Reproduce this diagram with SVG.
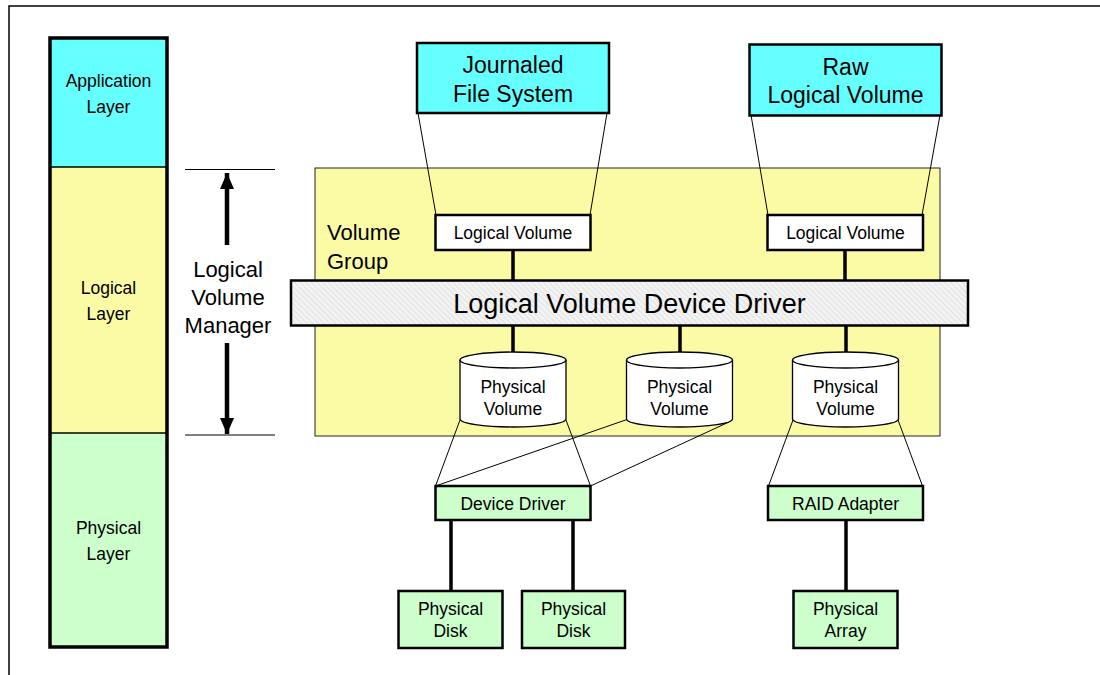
<svg xmlns="http://www.w3.org/2000/svg" width="1100" height="675" viewBox="0 0 1100 675">
  <defs>
    <style>
      text { font-family: "Liberation Sans", Arial, sans-serif; fill: #000; text-anchor: middle; }
      .s17 { font-size: 17.5px; }
      .s22 { font-size: 22px; }
      .s23 { font-size: 23px; }
      .s27 { font-size: 27px; }
      .cyan { fill: #66FFFF; stroke: #000; stroke-width: 2.5; }
      .green { fill: #CCFFCC; stroke: #000; stroke-width: 2.5; }
      .white { fill: #FFFFFF; stroke: #000; stroke-width: 2.5; }
      .yellow { fill: #FBFBA6; }
      .thin { stroke: #000; stroke-width: 1; fill: none; }
      .thick { stroke: #000; stroke-width: 3.5; fill: none; }
      .cyl { fill: #FFFFFF; stroke: #000; stroke-width: 1.3; }
    </style>
    <pattern id="hatch" width="4" height="4" patternUnits="userSpaceOnUse" patternTransform="rotate(-45)">
      <rect width="4" height="4" fill="#F3F3F3"/>
      <line x1="0" y1="0" x2="0" y2="4" stroke="#D6D6D6" stroke-width="1.2"/>
    </pattern>
    <marker id="head" viewBox="0 0 16 14" refX="16" refY="7" markerWidth="16" markerHeight="14" markerUnits="userSpaceOnUse" orient="auto">
      <path d="M0,0 L16,7 L0,14 z" fill="#000"/>
    </marker>
  </defs>

  <rect width="1100" height="675" fill="#FFFFFF"/>

  <!-- page frame -->
  <path d="M9,675 V6 H1100" fill="none" stroke="#000" stroke-width="1.5"/>

  <!-- layer column -->
  <g id="layers">
    <rect x="50" y="38" width="117" height="129" fill="#66FFFF"/>
    <rect x="50" y="167" width="117" height="266" class="yellow"/>
    <rect x="50" y="433" width="117" height="214" fill="#CCFFCC"/>
    <line x1="50" y1="167" x2="167" y2="167" stroke="#000" stroke-width="1.5"/>
    <line x1="50" y1="433" x2="167" y2="433" stroke="#000" stroke-width="1.5"/>
    <rect x="50" y="38" width="117" height="609" fill="none" stroke="#000" stroke-width="3.5"/>
    <text class="s17" x="108.5" y="87">Application</text>
    <text class="s17" x="108.5" y="113">Layer</text>
    <text class="s17" x="108.5" y="294">Logical</text>
    <text class="s17" x="108.5" y="320">Layer</text>
    <text class="s17" x="108.5" y="534">Physical</text>
    <text class="s17" x="108.5" y="560">Layer</text>
  </g>

  <!-- LVM span indicator -->
  <g id="lvm">
    <line x1="185" y1="169.5" x2="275" y2="169.5" stroke="#000" stroke-width="1.2"/>
    <line x1="185" y1="435" x2="275" y2="435" stroke="#000" stroke-width="1.2"/>
    <line x1="227" y1="245" x2="227" y2="173" stroke="#000" stroke-width="4.5" marker-end="url(#head)"/>
    <line x1="227" y1="343" x2="227" y2="434" stroke="#000" stroke-width="4.5" marker-end="url(#head)"/>
    <text class="s22" x="228" y="277">Logical</text>
    <text class="s22" x="228" y="305">Volume</text>
    <text class="s22" x="228" y="333">Manager</text>
  </g>

  <!-- volume group area -->
  <g id="volume-group">
    <rect x="315" y="168" width="625" height="268" class="yellow" stroke="#222" stroke-width="1"/>
    <text class="s22" x="327" y="240" style="text-anchor:start">Volume</text>
    <text class="s22" x="327" y="269" style="text-anchor:start">Group</text>
  </g>

  <!-- connectors -->
  <g id="connectors">
    <!-- file system / raw LV to logical volumes -->
    <line class="thin" x1="418" y1="113" x2="436" y2="215"/>
    <line class="thin" x1="607" y1="113" x2="590" y2="215"/>
    <line class="thin" x1="751" y1="115" x2="768" y2="215"/>
    <line class="thin" x1="940" y1="115" x2="922" y2="215"/>
    <!-- logical volumes to device driver bar -->
    <line class="thick" x1="513" y1="250" x2="513" y2="281"/>
    <line class="thick" x1="845" y1="250" x2="845" y2="281"/>
    <!-- device driver bar to physical volumes -->
    <line class="thick" x1="513" y1="324" x2="513" y2="353"/>
    <line class="thick" x1="680" y1="324" x2="680" y2="353"/>
    <line class="thick" x1="846" y1="324" x2="846" y2="353"/>
    <!-- physical volumes to adapters -->
    <line class="thin" x1="460" y1="420" x2="435.5" y2="486"/>
    <line class="thin" x1="566" y1="420" x2="590.5" y2="486"/>
    <line class="thin" x1="627" y1="419.5" x2="435.5" y2="486"/>
    <line class="thin" x1="729" y1="422" x2="590.5" y2="486"/>
    <line class="thin" x1="793" y1="420" x2="768.5" y2="486"/>
    <line class="thin" x1="898" y1="420" x2="922.5" y2="486"/>
    <!-- adapters to disks -->
    <line class="thick" x1="451" y1="520" x2="451" y2="591"/>
    <line class="thick" x1="573" y1="520" x2="573" y2="591"/>
    <line class="thick" x1="846" y1="520" x2="846" y2="591"/>
  </g>

  <g id="jfs">
    <rect x="417" y="43" width="192" height="70" class="cyan"/>
    <text class="s23" x="513" y="73">Journaled</text>
    <text class="s23" x="513" y="102">File System</text>
  </g>

  <g id="raw-lv">
    <rect x="749.5" y="44.5" width="192" height="71" class="cyan"/>
    <text class="s23" x="845.5" y="75">Raw</text>
    <text class="s23" x="845.5" y="103">Logical Volume</text>
  </g>

  <g id="lv-1">
    <rect x="435.5" y="215" width="155" height="35" class="white"/>
    <text class="s17" x="513" y="238.5">Logical Volume</text>
  </g>

  <g id="lv-2">
    <rect x="767.5" y="215" width="155.5" height="35" class="white"/>
    <text class="s17" x="845.5" y="238.5">Logical Volume</text>
  </g>

  <g id="lvdd">
    <rect x="291" y="280.5" width="677" height="45" fill="url(#hatch)" stroke="#000" stroke-width="2.5"/>
    <text class="s27" x="629.5" y="313">Logical Volume Device Driver</text>
  </g>

  <g id="pv-1">
    <path class="cyl" d="M460,360 V419 A53,8 0 0 0 566,419 V360"/>
    <ellipse class="cyl" cx="513" cy="360" rx="53" ry="8"/>
    <text class="s17" x="513" y="393">Physical</text>
    <text class="s17" x="513" y="415">Volume</text>
  </g>

  <g id="pv-2">
    <path class="cyl" d="M626.5,360 V419 A53,8 0 0 0 732.5,419 V360"/>
    <ellipse class="cyl" cx="679.5" cy="360" rx="53" ry="8"/>
    <text class="s17" x="679.5" y="393">Physical</text>
    <text class="s17" x="679.5" y="415">Volume</text>
  </g>

  <g id="pv-3">
    <path class="cyl" d="M792.5,360 V419 A53,8 0 0 0 898.5,419 V360"/>
    <ellipse class="cyl" cx="845.5" cy="360" rx="53" ry="8"/>
    <text class="s17" x="845.5" y="393">Physical</text>
    <text class="s17" x="845.5" y="415">Volume</text>
  </g>

  <g id="device-driver">
    <rect x="435.5" y="486" width="155" height="34" class="green"/>
    <text class="s17" x="513" y="510">Device Driver</text>
  </g>

  <g id="raid-adapter">
    <rect x="768" y="486" width="155" height="34" class="green"/>
    <text class="s17" x="845.5" y="510">RAID Adapter</text>
  </g>

  <g id="disk-1">
    <rect x="398.5" y="591" width="104" height="57" class="green"/>
    <text class="s17" x="450.5" y="615">Physical</text>
    <text class="s17" x="450.5" y="637">Disk</text>
  </g>

  <g id="disk-2">
    <rect x="522" y="591" width="103" height="57" class="green"/>
    <text class="s17" x="573.5" y="615">Physical</text>
    <text class="s17" x="573.5" y="637">Disk</text>
  </g>

  <g id="array">
    <rect x="793.5" y="591" width="104" height="57" class="green"/>
    <text class="s17" x="845.5" y="615">Physical</text>
    <text class="s17" x="845.5" y="637">Array</text>
  </g>
</svg>
